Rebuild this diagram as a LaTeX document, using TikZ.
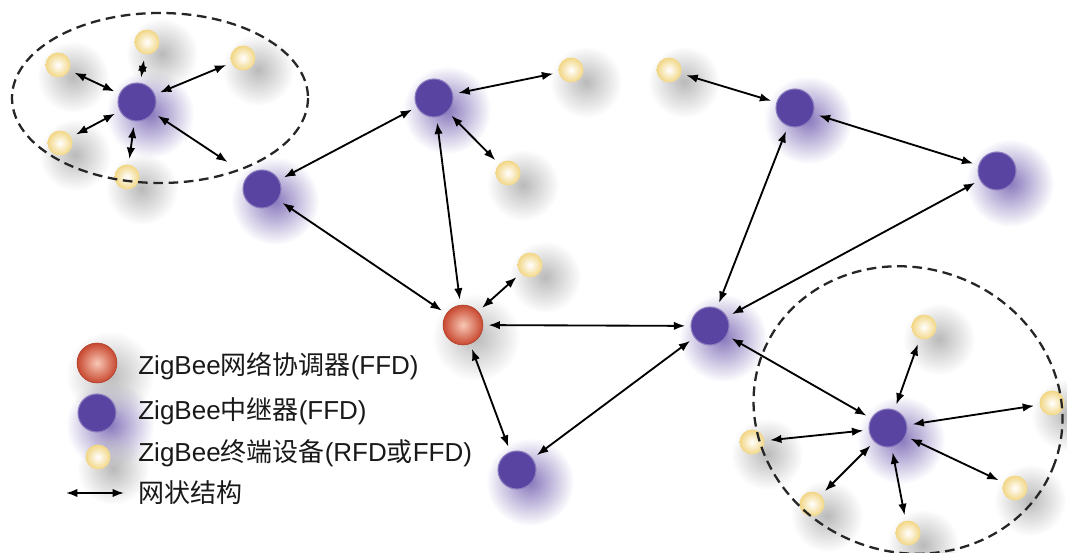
\documentclass[tikz,border=0pt]{standalone}
\usepackage{fontspec}
\setmainfont{Liberation Sans}
\newfontfamily\cjk{Noto Sans CJK SC}
\usetikzlibrary{
    arrows.meta,
    fadings,
    backgrounds
}
\definecolor{routerpurple}{RGB}{90,68,162}
\definecolor{coordred}{RGB}{200,72,48}
\definecolor{coordlight}{RGB}{248,200,182}
\definecolor{endyellow}{RGB}{242,214,132}
\tikzfading[name = soft glow, inner color = transparent!10, outer color = transparent!100]
\tikzset {
    coord vertex/.style = {circle, inner sep = 0pt, minimum size = 0.8cm,
        shading = radial, inner color = coordlight, outer color = coordred,
        draw = coordred!85!black, line width = 0.3pt},
    router vertex/.style = {circle, inner sep = 0pt, minimum size = 0.76cm,
        fill = routerpurple, draw = routerpurple!70!white, line width = 0.6pt},
    end vertex/.style = {circle, inner sep = 0pt, minimum size = 0.5cm,
        shading = radial, inner color = white, outer color = endyellow},
    mesh link/.style = {
        {Latex[length = 6.5pt, width = 4.8pt]}-{Latex[length = 6.5pt, width = 4.8pt]},
        line width = 1.05pt, shorten < = 3pt, shorten > = 3pt},
    zone/.style = {dash pattern = on 5.5pt off 3.2pt, line width = 1.3pt, black!85},
    legend/.style = {anchor = west, inner sep = 0pt,
        font = \fontsize{14.8}{18}\selectfont, text = black!90},
    purple glow/.style = {routerpurple!80, path fading = soft glow},
    grey glow/.style = {black!30, path fading = soft glow}
}

\begin{document}
\begin{tikzpicture}[x = 0.02cm, y = -0.02cm]
    \useasboundingbox (0, 0) rectangle (1067, 553);
    % routers and coordinator
    \node (r1) [router vertex] at (137, 102) {};
    \node (r2) [router vertex] at (262, 189) {};
    \node (r3) [router vertex] at (434, 98) {};
    \node (r4) [router vertex] at (795, 108) {};
    \node (r5) [router vertex] at (997, 171) {};
    \node (r6) [router vertex] at (710, 326) {};
    \node (r7) [router vertex] at (517, 470) {};
    \node (r8) [router vertex] at (888, 428) {};
    \node (co) [coord vertex] at (463, 325) {};
    % end devices
    \node (a1) [end vertex] at (58, 65) {};
    \node (a2) [end vertex] at (147, 42) {};
    \node (a3) [end vertex] at (243, 58) {};
    \node (a4) [end vertex] at (60, 143) {};
    \node (a5) [end vertex] at (127, 177) {};
    \node (b1) [end vertex] at (571, 70) {};
    \node (b2) [end vertex] at (508, 173) {};
    \node (b3) [end vertex] at (530, 265) {};
    \node (b4) [end vertex] at (669, 70) {};
    \node (c1) [end vertex] at (924, 327) {};
    \node (c2) [end vertex] at (1052, 403) {};
    \node (c3) [end vertex] at (752, 442) {};
    \node (c4) [end vertex] at (812, 504) {};
    \node (c5) [end vertex] at (908, 533) {};
    \node (c6) [end vertex] at (1015, 488) {};
    \coordinate (x1) at (232, 165);
    % legend
    \node (lc) [coord vertex] at (97, 363) {};
    \node (lr) [router vertex] at (97, 413) {};
    \node (le) [end vertex] at (98, 457) {};
    \coordinate (la) at (66, 493);
    \coordinate (lb) at (124, 493);
    \node (t1) [legend] at (138, 366) {ZigBee{\cjk 网络协调器}(FFD)};
    \node (t2) [legend] at (138, 411) {ZigBee{\cjk 中继器}(FFD)};
    \node (t3) [legend] at (138, 453) {ZigBee{\cjk 终端设备}(RFD{\cjk 或}FFD)};
    \node (t4) [legend] at (138, 493) {\cjk 网状结构};
    \draw [mesh link, shorten < = 0pt, shorten > = 0pt] (la) -- (lb);
    % shadows
    \begin{scope}[on background layer]
        \foreach \n in {r1, r2, r3, r4, r5, r6, r7, r8, lr}
            \fill [purple glow] ([shift = {(13, 12)}] \n.center) circle (44);
        \foreach \n in {co, lc}
            \fill [grey glow] ([shift = {(13, 12)}] \n.center) circle (44);
        \foreach \n in {a1, a2, a3, a4, a5, b1, b2, b3, b4, c1, c2, c3, c4, c5, c6, le}
            \fill [grey glow] ([shift = {(15, 12)}] \n.center) circle (36);
    \end{scope}
    % zones
    \draw [zone] (160, 98) ellipse [x radius = 148, y radius = 85];
    \draw [zone, rotate around = {-20:(908, 410)}] (908, 410)
        ellipse [x radius = 156, y radius = 142];
    % links
    \foreach \a/\b in {r1/a1, r1/a2, r1/a3, r1/a4, r1/a5, r1/x1,
            r2/r3, r2/co, r3/co, r3/b1, r3/b2, co/b3, co/r6, co/r7,
            r7/r6, r6/r4, r6/r5, r4/r5, r4/b4, r6/r8,
            r8/c1, r8/c2, r8/c3, r8/c4, r8/c5, r8/c6}
        \draw [mesh link] (\a) -- (\b);
\end{tikzpicture}
\end{document}
